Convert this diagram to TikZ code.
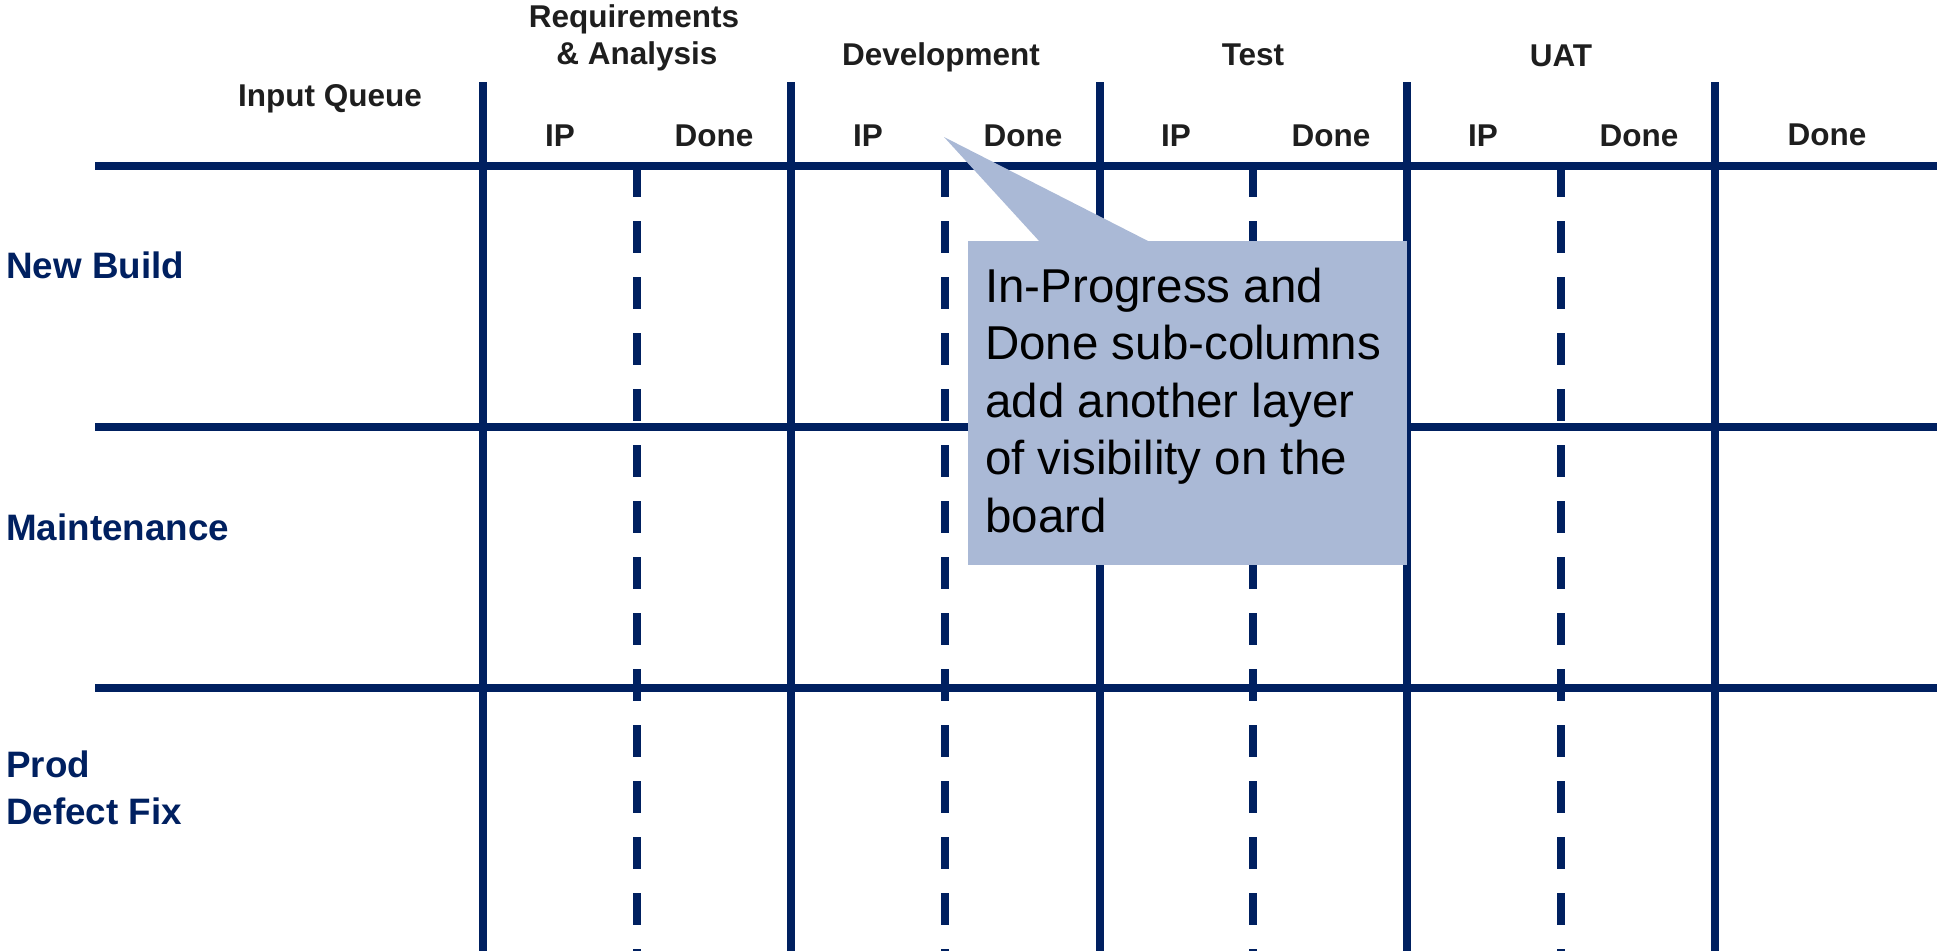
\documentclass[tikz,border=0pt]{standalone}
\usepackage{fontspec}
\setmainfont{Liberation Sans}
\definecolor{navy}{RGB}{0,32,96}
\definecolor{calloutfill}{RGB}{170,185,214}
\definecolor{hdrc}{RGB}{30,30,30}
\begin{document}
\begin{tikzpicture}[x=1pt,y=-1pt,
  grid/.style={draw=navy, line width=8pt},
  subgrid/.style={draw=navy, line width=8pt, dash pattern=on 32pt off 24pt},
  hdr/.style={font=\fontsize{31.5}{37}\selectfont\bfseries, text=hdrc, inner sep=0pt, anchor=base},
  rowlbl/.style={font=\fontsize{36.8}{46}\selectfont\bfseries, text=navy, inner sep=0pt, anchor=base west},
  notetxt/.style={font=\fontsize{47.5}{57.5}\selectfont, text=black, inner sep=0pt, anchor=base west}]
\useasboundingbox (0,0) rectangle (1937,951);

% grid lines
\foreach \x in {483,791,1100,1407,1715} \draw[grid] (\x,82) -- (\x,951);
\foreach \x in {637,945,1253,1561} \draw[subgrid] (\x,165) -- (\x,951);
\foreach \y in {166,427,688} \draw[grid] (95,\y) -- (1937,\y);

% column headers
\node[hdr] (req1) at (634,27) {Requirements};
\node[hdr] (req2) at (637,64) {\& Analysis};
\node[hdr] (dev) at (941,65) {Development};
\node[hdr] (test) at (1253,65) {Test};
\node[hdr] (uat) at (1561,66) {UAT};
\node[hdr] (inq) at (330,106) {Input Queue};
\node[hdr] (ip1) at (560,146) {IP};
\node[hdr] (dn1) at (714,146) {Done};
\node[hdr] (ip2) at (868,146) {IP};
\node[hdr] (dn2) at (1023,146) {Done};
\node[hdr] (ip3) at (1176,146) {IP};
\node[hdr] (dn3) at (1331,146) {Done};
\node[hdr] (ip4) at (1483,146) {IP};
\node[hdr] (dn4) at (1639,146) {Done};
\node[hdr] (dn5) at (1827,145) {Done};

% row labels
\node[rowlbl] (nb) at (6,278) {New Build};
\node[rowlbl] (mt) at (6,540) {Maintenance};
\node[rowlbl] (pd1) at (6,777) {Prod};
\node[rowlbl] (pd2) at (6,824) {Defect Fix};

% callout
\coordinate (tip) at (944,137);
\node[fill=calloutfill, inner sep=0pt, minimum width=439pt, minimum height=324pt, anchor=north west] (notebox) at (968,241) {};
\fill[calloutfill] (1040,242) -- (tip) -- (1150,242) -- cycle;
\node[notetxt] (n1) at (985,302) {In-Progress and};
\node[notetxt] (n2) at (985,359.5) {Done sub-columns};
\node[notetxt] (n3) at (985,417) {add another layer};
\node[notetxt] (n4) at (985,474.5) {of visibility on the};
\node[notetxt] (n5) at (985,532) {board};
\end{tikzpicture}
\end{document}
